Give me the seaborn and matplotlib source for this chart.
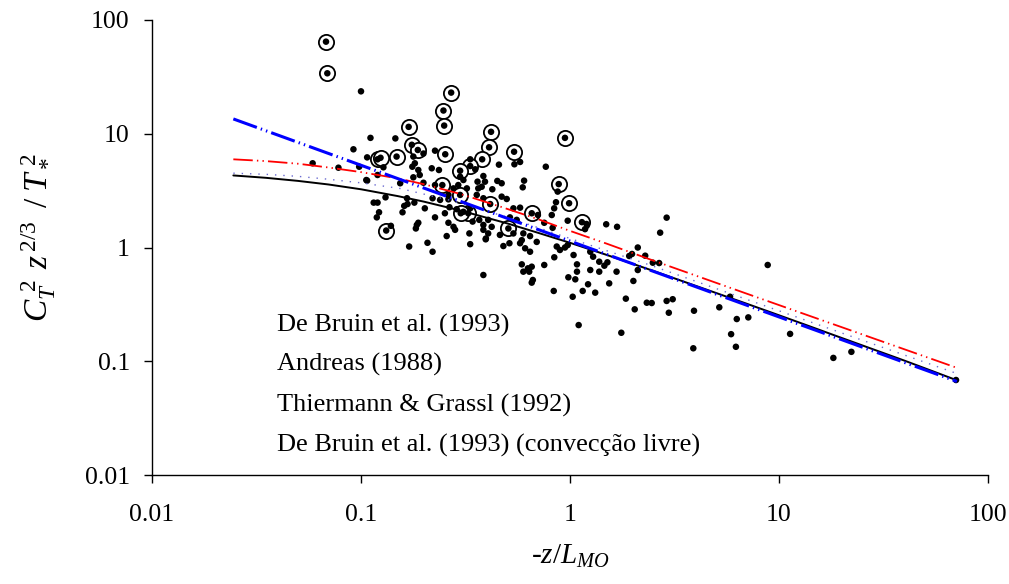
import numpy as np
import pandas as pd
import matplotlib
matplotlib.use("Agg")
import matplotlib.pyplot as plt
import seaborn as sns

# ---------------- data ----------------
dots_x = [0.1, 0.111, 0.146, 0.092, 0.107, 0.128, 0.098, 0.0587, 0.078, 0.178,
          0.199, 0.226, 0.181, 0.188, 0.176, 0.218, 0.236, 0.178, 0.191, 0.12,
          0.107, 0.154, 0.199, 0.226, 0.333, 0.298, 0.309, 0.292, 0.352, 0.385,
          0.361, 0.392, 0.321, 0.378, 0.457, 0.542, 0.577, 0.766, 0.449, 0.471,
          0.603, 0.594, 0.425, 0.471, 0.498, 0.873, 0.857, 0.84, 0.818, 0.536,
          0.577, 0.702, 0.753, 0.975, 1.2, 1.49, 1.68, 2.9, 2.7, 0.826,
          1.18, 0.516, 0.556, 0.406, 0.422, 0.385, 0.598, 0.644, 0.536, 2.11,
          2.29, 1.98, 1.92, 2.49, 2.67, 2.11, 2.01, 1.85, 2.04, 2.33,
          2.46, 2.9, 3.1, 3.92, 5.18, 5.83, 6.28, 5.9, 3.89, 7.13,
          1.76, 1.1, 1.54, 1.38, 1.46, 1.51, 1.29, 1.25, 1.04, 1.15,
          1.32, 1.22, 1.03, 1.06, 0.982, 1.08, 1.25, 0.836, 0.753, 0.864,
          0.895, 0.946, 0.841, 0.385, 0.48, 0.513, 0.588, 0.598, 0.638, 0.656,
          0.664, 1.08, 1.38, 1.67, 2.97, 0.975, 0.644, 0.61, 0.577, 0.395,
          0.693, 0.115, 0.12, 0.122, 0.119, 0.139, 0.131, 0.161, 0.167, 0.158,
          0.17, 0.183, 0.185, 0.188, 0.208, 0.22, 0.202, 0.18, 0.226, 0.252,
          0.262, 0.277, 0.282, 0.257, 0.265, 0.287, 0.309, 0.333, 0.342, 0.368,
          0.33, 0.333, 0.385, 0.396, 0.277, 0.364, 0.385, 0.358, 0.239, 0.262,
          0.166, 0.106, 0.22, 0.262, 0.406, 0.462, 0.588, 0.629, 0.656, 8.83,
          6.22, 11.3, 18.2, 22.2, 70.3]
dots_y = [23.6, 9.2, 9.1, 7.3, 6.2, 5.07, 5.13, 5.5, 5.03, 6.3,
          6.7, 7.1, 5.5, 4.8, 5.13, 4.97, 4.8, 4.14, 4.34, 4.34,
          3.87, 3.67, 3.71, 3.54, 5.96, 4.19, 3.92, 3.54, 4.87, 4.25,
          3.79, 3.79, 3.31, 3.42, 5.35, 5.39, 5.65, 5.13, 3.85, 3.67,
          3.87, 3.38, 3.25, 2.8, 2.67, 3.1, 2.5, 2.21, 1.93, 2.21,
          2.24, 1.93, 1.65, 1.72, 1.61, 1.6, 1.52, 1.83, 1.35, 1.49,
          1.45, 1.84, 1.75, 1.75, 1.52, 1.58, 1.33, 1.26, 1.33, 1.0,
          0.847, 0.877, 0.842, 0.735, 0.73, 0.634, 0.508, 0.355, 0.286, 0.327,
          0.325, 0.339, 0.351, 0.278, 0.298, 0.369, 0.235, 0.173, 0.13, 0.243,
          0.178, 0.208, 0.484, 0.613, 0.692, 0.741, 0.83, 0.918, 0.859, 0.415,
          0.401, 0.475, 0.369, 0.525, 0.547, 0.711, 0.634, 0.415, 0.702, 1.02,
          0.951, 1.0, 0.82, 0.573, 1.03, 1.09, 0.711, 0.613, 0.613, 0.678,
          0.518, 0.613, 0.75, 0.613, 0.267, 1.05, 0.918, 0.984, 1.09, 1.18,
          1.12, 2.48, 2.48, 2.04, 1.84, 1.55, 2.76, 2.32, 2.41, 2.04,
          1.02, 1.47, 1.58, 1.65, 1.1, 0.918, 2.21, 2.48, 1.84, 2.0,
          1.65, 1.52, 1.43, 1.26, 2.26, 2.17, 2.06, 2.21, 1.69, 1.75,
          1.33, 1.07, 1.43, 1.2, 3.31, 3.31, 2.71, 2.9, 2.62, 2.65,
          2.71, 3.92, 2.71, 2.9, 1.33, 1.29, 1.16, 0.656, 0.491, 0.702,
          0.134, 0.174, 0.107, 0.121, 0.0684]

circled_x = [0.068, 0.069, 0.27, 0.248, 0.25, 0.169, 0.419, 0.946, 0.41, 0.175,
             0.187, 0.54, 0.253, 0.148, 0.12, 0.124, 0.38, 0.333, 0.298, 0.245,
             0.883, 0.99, 1.14, 0.415, 0.656, 0.507, 0.132, 0.298, 0.326, 0.30]
circled_y = [64.5, 34.0, 23.0, 16.0, 11.8, 11.5, 10.4, 9.2, 7.6, 8.0,
             7.2, 6.95, 6.6, 6.3, 5.96, 6.15, 5.96, 5.2, 4.73, 3.54,
             3.61, 2.45, 1.67, 2.41, 2.0, 1.47, 1.41, 2.9, 2.0, 2.0]

# model curves
debruin_x = [0.0245, 0.035, 0.05, 0.07, 0.1, 0.15, 0.2, 0.3, 0.5, 0.7,
             1.0, 1.5, 2.4, 4.0, 7.3, 12.0, 20.0, 40.0, 71.0]
debruin_y = [4.3, 4.1, 3.85, 3.58, 3.25, 2.83, 2.53, 2.11, 1.63, 1.35,
             1.1, 0.86, 0.64, 0.46, 0.312, 0.225, 0.16, 0.101, 0.068]

andreas_x = [0.0245, 0.035, 0.05, 0.07, 0.1, 0.15, 0.2, 0.3, 0.46, 0.7,
             1.0, 1.5, 2.42, 4.0, 7.0, 12.0, 20.0, 40.0, 71.0]
andreas_y = [5.96, 5.75, 5.45, 5.05, 4.6, 4.05, 3.6, 2.95, 2.3, 1.78,
             1.4, 1.08, 0.785, 0.566, 0.393, 0.277, 0.199, 0.127, 0.0875]

thiermann_x = [0.0245, 0.035, 0.05, 0.07, 0.1, 0.154, 0.267, 0.5, 1.0, 2.42,
               7.0, 20.0, 71.0]
thiermann_y = [4.5, 4.4, 4.22, 3.98, 3.7, 3.3, 2.6, 1.85, 1.2, 0.70,
               0.35, 0.177, 0.078]

freeconv_x = [0.0245, 71.0]
freeconv_y = [13.5, 0.0664]

legend_labels = ["De Bruin et al. (1993)", "Andreas (1988)",
                 "Thiermann & Grassl (1992)",
                 "De Bruin et al. (1993) (convecção livre)"]

tick_vals = [0.01, 0.1, 1, 10, 100]
tick_labels = ["0.01", "0.1", "1", "10", "100"]

# ---------------- style ----------------
sns.set_theme(style="white")
plt.rcParams['font.family'] = ['Liberation Serif', 'DejaVu Serif']
plt.rcParams['mathtext.fontset'] = 'custom'
plt.rcParams['mathtext.rm'] = 'Liberation Serif'
plt.rcParams['mathtext.it'] = 'Liberation Serif:italic'
plt.rcParams['mathtext.bf'] = 'Liberation Serif:bold'
plt.rcParams['lines.scale_dashes'] = False

fig = plt.figure(figsize=(10.09, 5.84), dpi=100)
ax = fig.add_axes([152 / 1009, 109 / 584, 836 / 1009, 455 / 584])
ax.set_xscale('log')
ax.set_yscale('log')

# points
sns.scatterplot(x=circled_x, y=circled_y, ax=ax, s=120, marker='o',
                facecolor='white', edgecolor='black', linewidth=1.3,
                zorder=3, legend=False)
sns.scatterplot(x=dots_x + circled_x, y=dots_y + circled_y, ax=ax, s=22,
                color='black', edgecolor='none', linewidth=0, zorder=4,
                legend=False)

# curves
def curve(xs, ys, color, lw, dashes=None, z=5):
    sns.lineplot(x=xs, y=ys, ax=ax, color=color, linewidth=lw,
                 estimator=None, sort=False, legend=False, zorder=z)
    ln = ax.lines[-1]
    if dashes is not None:
        ln.set_dashes(dashes)
    return ln

curve(debruin_x, debruin_y, 'black', 1.4, None, 5)
curve(andreas_x, andreas_y, '#ff0000', 1.3, [14, 3, 1, 3, 1, 3], 5)
curve(thiermann_x, thiermann_y, '#6a6ad0', 1.0, [1, 5], 5)
curve(freeconv_x, freeconv_y, '#0000ff', 2.2, [18, 3, 1, 3, 1, 3], 6)

# axes formatting
ax.set_xlim(0.01, 100)
ax.set_ylim(0.01, 100)
ax.set_xticks(tick_vals)
ax.set_xticklabels(tick_labels)
ax.set_yticks(tick_vals)
ax.set_yticklabels(tick_labels)
ax.minorticks_off()
ax.tick_params(axis='both', which='major', direction='out', length=6,
               width=1, color='black', labelsize=18.5, labelcolor='black',
               left=True, bottom=True)
ax.tick_params(axis='x', pad=15)
ax.tick_params(axis='y', pad=10)
for s in ['top', 'right']:
    ax.spines[s].set_visible(False)
for s in ['left', 'bottom']:
    ax.spines[s].set_color('black')
    ax.spines[s].set_linewidth(1.0)
ax.grid(False)
ax.set_facecolor('white')

ax.set_xlabel(r'-$z/L_{MO}$', fontsize=21, color='black')
ax.xaxis.set_label_coords(0.5, (475 - 543) / 455)
ax.set_ylabel(r'$C_T^{\ 2}\;\,z^{\,2/3}\;\;/\;T_*^{\ 2}$', fontsize=24,
              color='black', va='center', ha='center')
ax.yaxis.set_label_coords(-0.136, (475 - 237) / 455)

# legend (text entries only, as in the reference)
leg_y = [(475 - 325) / 455, (475 - 364) / 455, (475 - 405) / 455,
         (475 - 445) / 455]
for lab, yy in zip(legend_labels, leg_y):
    ax.text((277 - 152) / 836, yy, lab, transform=ax.transAxes,
            fontsize=19, va='center', ha='left', color='black')

fig.savefig('out.png', dpi=100, facecolor='white')
